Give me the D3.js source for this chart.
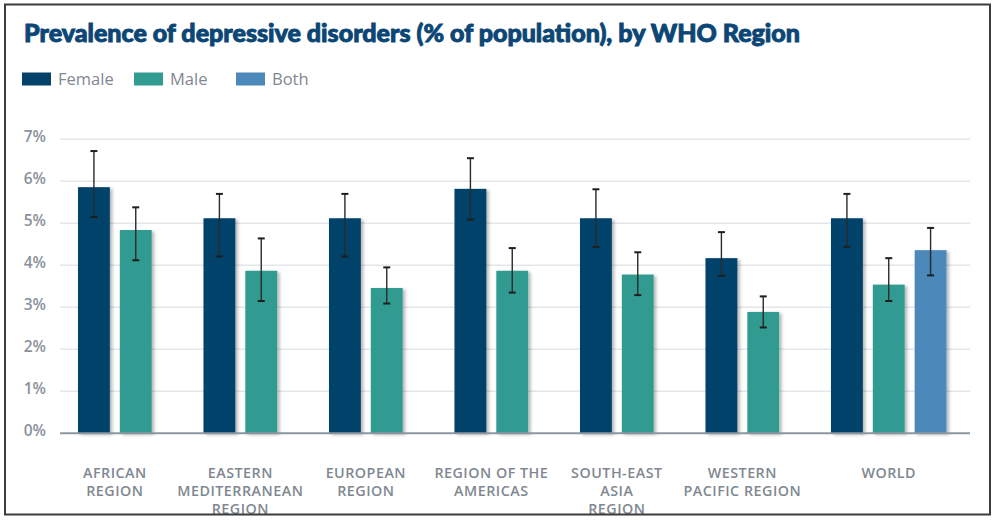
<!DOCTYPE html>
<html>
<head>
<meta charset="utf-8">
<script src="https://cdn.jsdelivr.net/npm/d3@7"></script>
<style>
  body { margin: 0; background: #fff; }
  svg { display: block; }
</style>
</head>
<body>
<div id="chart"></div>
<script>
var W = 995, H = 521

// data (percent of population)
var regions   = ["African", "Eastern Mediterranean", "European", "Americas", "South-East Asia", "Western Pacific", "World"]
var tickLines = [["AFRICAN", "REGION"],
                 ["EASTERN", "MEDITERRANEAN", "REGION"],
                 ["EUROPEAN", "REGION"],
                 ["REGION OF THE", "AMERICAS"],
                 ["SOUTH-EAST", "ASIA", "REGION"],
                 ["WESTERN", "PACIFIC REGION"],
                 ["WORLD"]]
var series    = ["Female", "Male", "Both"]
var female    = [5.86, 5.12, 5.12, 5.82, 5.12, 4.17, 5.12]
var femaleLo  = [5.15, 4.21, 4.21, 5.09, 4.44, 3.75, 4.44]
var femaleHi  = [6.72, 5.70, 5.70, 6.55, 5.81, 4.79, 5.70]
var male      = [4.84, 3.87, 3.46, 3.87, 3.78, 2.89, 3.54]
var maleLo    = [4.12, 3.15, 3.09, 3.35, 3.29, 2.52, 3.15]
var maleHi    = [5.38, 4.64, 3.95, 4.41, 4.31, 3.26, 4.17]
var both      = [null, null, null, null, null, null, 4.36]
var bothLo    = [null, null, null, null, null, null, 3.76]
var bothHi    = [null, null, null, null, null, null, 4.89]
var yTicks    = [0, 1, 2, 3, 4, 5, 6, 7]

var cFemale = "#05426b",
	cMale   = "#319b91",
	cBoth   = "#4c89ba",
	cGrid   = "#e4e6e8",
	cText   = "#7f8891"

var colors = {"Female": cFemale, "Male": cMale, "Both": cBoth}
var values = {"Female": [female, femaleLo, femaleHi],
              "Male":   [male, maleLo, maleHi],
              "Both":   [both, bothLo, bothHi]}

var bars = []
regions.forEach(function(r, i){
	series.forEach(function(s){
		var v = values[s]
		if (v[0][i] != null) bars.push({region: r, key: s, v: v[0][i], lo: v[1][i], hi: v[2][i]})
	})
})

var svg = d3.select("#chart").append("svg")
	.attr("width", W)
	.attr("height", H)

var defs = svg.append("defs")
var shadow = defs.append("filter").attr("id", "shadow")
	.attr("x", "-20%").attr("y", "-5%").attr("width", "160%").attr("height", "115%")
shadow.append("feDropShadow")
	.attr("dx", 2.5).attr("dy", 1.5)
	.attr("stdDeviation", 1.8)
	.attr("flood-color", "#000")
	.attr("flood-opacity", 0.28)

var x0 = d3.scaleBand().domain(regions).range([73, 951.5]).padding(0)
var x1 = d3.scaleBand().domain(series).range([0, x0.bandwidth()])
	.paddingInner(0.238).paddingOuter(0.119)
var y = d3.scaleLinear().domain([0, 7]).range([433.3, 139.3])

// title
svg.append("text")
	.attr("x", 24)
	.attr("y", 42)
	.attr("font-family", "Lato")
	.attr("font-weight", 900)
	.attr("font-size", 24)
	.attr("fill", "#0b4675")
	.attr("stroke", "#0b4675")
	.attr("stroke-width", 0.9)
	.attr("textLength", 776)
	.attr("lengthAdjust", "spacingAndGlyphs")
	.text("Prevalence of depressive disorders (% of population), by WHO Region")

// legend
var legendX = [22, 134, 236]
var legend = svg.selectAll(".legend")
	.data(series)
	.enter()
	.append("g")
	.attr("class", "legend")
	.attr("transform", function(d, i){ return "translate(" + legendX[i] + ",72.5)" })
legend.append("rect")
	.attr("width", 29)
	.attr("height", 13)
	.attr("fill", function(d){ return colors[d] })
legend.append("text")
	.attr("x", 36)
	.attr("y", 12.5)
	.attr("font-family", "Open Sans")
	.attr("font-size", 16.5)
	.attr("fill", cText)
	.text(function(d){ return d })

// gridlines + y labels
svg.selectAll(".grid")
	.data(yTicks.filter(function(d){ return d > 0 }))
	.enter()
	.append("line")
	.attr("class", "grid")
	.attr("x1", 60).attr("x2", 970)
	.attr("y1", function(d){ return y(d) })
	.attr("y2", function(d){ return y(d) })
	.attr("stroke", cGrid)
	.attr("stroke-width", 1.5)

svg.selectAll(".ylab")
	.data(yTicks)
	.enter()
	.append("text")
	.attr("class", "ylab")
	.attr("x", 46)
	.attr("y", function(d){ return y(d) + 3 })
	.attr("text-anchor", "end")
	.attr("font-family", "Open Sans")
	.attr("font-weight", 600)
	.attr("font-size", 15.5)
	.attr("fill", "#8a929b")
	.text(function(d){ return d + "%" })

// bars
svg.selectAll(".bar")
	.data(bars)
	.enter()
	.append("rect")
	.attr("class", "bar")
	.attr("x", function(d){ return x0(d.region) + x1(d.key) })
	.attr("y", function(d){ return y(d.v) })
	.attr("width", x1.bandwidth())
	.attr("height", function(d){ return y(0) - y(d.v) })
	.attr("fill", function(d){ return colors[d.key] })
	.attr("filter", "url(#shadow)")

// baseline
svg.append("line")
	.attr("x1", 60).attr("x2", 970)
	.attr("y1", y(0)).attr("y2", y(0))
	.attr("stroke", "#8c96a0")
	.attr("stroke-width", 2)

// error bars
var err = svg.selectAll(".err")
	.data(bars)
	.enter()
	.append("g")
	.attr("class", "err")
	.attr("transform", function(d){ return "translate(" + (x0(d.region) + x1(d.key) + x1.bandwidth()/2) + ",0)" })
err.append("line")
	.attr("y1", function(d){ return y(d.lo) })
	.attr("y2", function(d){ return y(d.hi) })
	.attr("stroke", "#2a2a2a")
	.attr("stroke-width", 1.4)
err.selectAll(".cap")
	.data(function(d){ return [d.lo, d.hi] })
	.enter()
	.append("line")
	.attr("class", "cap")
	.attr("x1", -3.5).attr("x2", 3.5)
	.attr("y1", function(d){ return y(d) })
	.attr("y2", function(d){ return y(d) })
	.attr("stroke", "#1e1e1e")
	.attr("stroke-width", 2)

// category labels, centred under the bars each region has
var labels = svg.selectAll(".xlab")
	.data(regions)
	.enter()
	.append("text")
	.attr("class", "xlab")
	.attr("text-anchor", "middle")
	.attr("font-family", "Open Sans")
	.attr("font-weight", 600)
	.attr("font-size", 14.3)
	.attr("letter-spacing", 0.5)
	.attr("fill", cText)
	.attr("transform", function(d){
		var mine = bars.filter(function(b){ return b.region == d })
		var left = d3.min(mine, function(b){ return x0(b.region) + x1(b.key) })
		var right = d3.max(mine, function(b){ return x0(b.region) + x1(b.key) + x1.bandwidth() })
		return "translate(" + ((left + right)/2) + ",478)"
	})
labels.selectAll("tspan")
	.data(function(d, i){ return tickLines[i] })
	.enter()
	.append("tspan")
	.attr("x", 0)
	.attr("y", function(d, i){ return i * 17.8 })
	.text(function(d){ return d })

// frame
svg.append("rect")
	.attr("x", 5).attr("y", 4.5)
	.attr("width", 985).attr("height", 510)
	.attr("fill", "none")
	.attr("stroke", "#3c3c3c")
	.attr("stroke-width", 2)
</script>
</body>
</html>
